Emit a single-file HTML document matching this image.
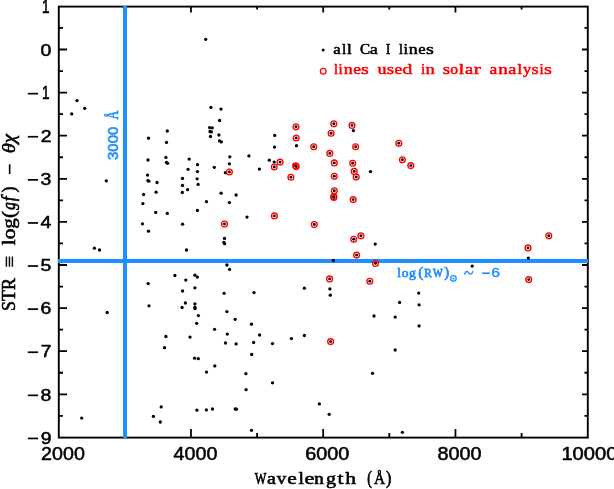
<!DOCTYPE html><html><head><meta charset="utf-8"><style>html,body{margin:0;padding:0;background:#fff;width:614px;height:489px;overflow:hidden}svg{display:block}</style></head><body>
<svg width="614" height="489" viewBox="0 0 614 489" style="will-change:transform">
<rect x="0" y="0" width="614" height="489" fill="#fff"/>
<path d="M58.8 27.95H63M587.8 27.95H584.5M58.8 49.50H67M587.8 49.50H582M58.8 71.05H63M587.8 71.05H584.5M58.8 92.60H67M587.8 92.60H582M58.8 114.15H63M587.8 114.15H584.5M58.8 135.70H67M587.8 135.70H582M58.8 157.25H63M587.8 157.25H584.5M58.8 178.80H67M587.8 178.80H582M58.8 200.35H63M587.8 200.35H584.5M58.8 221.90H67M587.8 221.90H582M58.8 243.45H63M587.8 243.45H584.5M58.8 265.00H67M587.8 265.00H582M58.8 286.55H63M587.8 286.55H584.5M58.8 308.10H67M587.8 308.10H582M58.8 329.65H63M587.8 329.65H584.5M58.8 351.20H67M587.8 351.20H582M58.8 372.75H63M587.8 372.75H584.5M58.8 394.30H67M587.8 394.30H582M58.8 415.85H63M587.8 415.85H584.5M124.83 437.6V433M124.83 6.6V9.5M190.95 437.6V429M190.95 6.6V12.5M257.07 437.6V433M257.07 6.6V9.5M323.20 437.6V429M323.20 6.6V12.5M389.32 437.6V433M389.32 6.6V9.5M455.45 437.6V429M455.45 6.6V12.5M521.58 437.6V433M521.58 6.6V9.5" stroke="#000" stroke-width="1.8" fill="none"/>
<rect x="58.8" y="6.6" width="529.0" height="431.0" fill="none" stroke="#000" stroke-width="1.9"/>
<rect x="123" y="6" width="4" height="432" fill="#1e90ff"/>
<rect x="58" y="259" width="530" height="4" fill="#1e90ff"/>
<g fill="#000">
<circle cx="77.0" cy="100.6" r="1.65"/>
<circle cx="84.7" cy="108.3" r="1.65"/>
<circle cx="71.7" cy="113.9" r="1.65"/>
<circle cx="148.5" cy="138.2" r="1.65"/>
<circle cx="148.0" cy="160.0" r="1.65"/>
<circle cx="147.5" cy="175.1" r="1.65"/>
<circle cx="106.3" cy="180.8" r="1.65"/>
<circle cx="147.9" cy="180.6" r="1.65"/>
<circle cx="148.8" cy="181.2" r="1.65"/>
<circle cx="157.0" cy="182.5" r="1.65"/>
<circle cx="143.6" cy="194.5" r="1.65"/>
<circle cx="156.1" cy="192.2" r="1.65"/>
<circle cx="142.9" cy="203.6" r="1.65"/>
<circle cx="155.7" cy="212.4" r="1.65"/>
<circle cx="142.5" cy="223.8" r="1.65"/>
<circle cx="148.5" cy="231.2" r="1.65"/>
<circle cx="94.4" cy="248.2" r="1.65"/>
<circle cx="99.5" cy="250.0" r="1.65"/>
<circle cx="148.2" cy="283.6" r="1.65"/>
<circle cx="149.0" cy="305.8" r="1.65"/>
<circle cx="107.2" cy="312.5" r="1.65"/>
<circle cx="164.5" cy="347.7" r="1.65"/>
<circle cx="81.7" cy="418.1" r="1.65"/>
<circle cx="161.2" cy="406.9" r="1.65"/>
<circle cx="153.4" cy="416.4" r="1.65"/>
<circle cx="160.3" cy="422.0" r="1.65"/>
<circle cx="205.7" cy="39.3" r="1.65"/>
<circle cx="210.9" cy="107.4" r="1.65"/>
<circle cx="221.0" cy="109.1" r="1.65"/>
<circle cx="219.6" cy="120.5" r="1.65"/>
<circle cx="209.6" cy="127.6" r="1.65"/>
<circle cx="212.2" cy="127.8" r="1.65"/>
<circle cx="210.0" cy="131.5" r="1.65"/>
<circle cx="211.4" cy="131.9" r="1.65"/>
<circle cx="210.5" cy="136.5" r="1.65"/>
<circle cx="218.9" cy="135.0" r="1.65"/>
<circle cx="219.6" cy="140.9" r="1.65"/>
<circle cx="221.3" cy="141.9" r="1.65"/>
<circle cx="167.3" cy="131.0" r="1.65"/>
<circle cx="166.5" cy="142.4" r="1.65"/>
<circle cx="165.9" cy="157.4" r="1.65"/>
<circle cx="166.5" cy="162.4" r="1.65"/>
<circle cx="167.6" cy="163.3" r="1.65"/>
<circle cx="189.2" cy="159.1" r="1.65"/>
<circle cx="197.5" cy="164.7" r="1.65"/>
<circle cx="188.1" cy="169.3" r="1.65"/>
<circle cx="197.4" cy="171.6" r="1.65"/>
<circle cx="214.3" cy="167.3" r="1.65"/>
<circle cx="229.8" cy="156.8" r="1.65"/>
<circle cx="229.4" cy="163.8" r="1.65"/>
<circle cx="225.4" cy="172.7" r="1.65"/>
<circle cx="248.9" cy="155.9" r="1.65"/>
<circle cx="259.4" cy="169.1" r="1.65"/>
<circle cx="269.3" cy="160.2" r="1.65"/>
<circle cx="182.5" cy="178.4" r="1.65"/>
<circle cx="197.1" cy="178.8" r="1.65"/>
<circle cx="182.5" cy="185.5" r="1.65"/>
<circle cx="198.1" cy="184.4" r="1.65"/>
<circle cx="187.6" cy="189.7" r="1.65"/>
<circle cx="182.3" cy="192.5" r="1.65"/>
<circle cx="221.1" cy="193.2" r="1.65"/>
<circle cx="236.1" cy="195.0" r="1.65"/>
<circle cx="206.5" cy="201.7" r="1.65"/>
<circle cx="229.4" cy="202.6" r="1.65"/>
<circle cx="197.4" cy="210.5" r="1.65"/>
<circle cx="167.3" cy="213.4" r="1.65"/>
<circle cx="247.0" cy="217.1" r="1.65"/>
<circle cx="182.6" cy="224.2" r="1.65"/>
<circle cx="224.5" cy="238.4" r="1.65"/>
<circle cx="223.8" cy="242.3" r="1.65"/>
<circle cx="224.6" cy="243.7" r="1.65"/>
<circle cx="186.5" cy="250.0" r="1.65"/>
<circle cx="226.9" cy="265.0" r="1.65"/>
<circle cx="229.6" cy="269.4" r="1.65"/>
<circle cx="174.9" cy="275.5" r="1.65"/>
<circle cx="194.9" cy="275.2" r="1.65"/>
<circle cx="197.4" cy="277.1" r="1.65"/>
<circle cx="185.8" cy="280.1" r="1.65"/>
<circle cx="194.9" cy="287.8" r="1.65"/>
<circle cx="182.6" cy="291.0" r="1.65"/>
<circle cx="224.1" cy="293.3" r="1.65"/>
<circle cx="254.0" cy="292.6" r="1.65"/>
<circle cx="185.4" cy="303.0" r="1.65"/>
<circle cx="194.9" cy="303.8" r="1.65"/>
<circle cx="182.1" cy="307.5" r="1.65"/>
<circle cx="194.9" cy="307.2" r="1.65"/>
<circle cx="195.1" cy="308.6" r="1.65"/>
<circle cx="198.4" cy="315.6" r="1.65"/>
<circle cx="226.9" cy="311.6" r="1.65"/>
<circle cx="235.2" cy="319.3" r="1.65"/>
<circle cx="196.7" cy="323.3" r="1.65"/>
<circle cx="251.5" cy="324.2" r="1.65"/>
<circle cx="214.6" cy="329.3" r="1.65"/>
<circle cx="227.3" cy="334.1" r="1.65"/>
<circle cx="259.6" cy="335.0" r="1.65"/>
<circle cx="165.9" cy="336.5" r="1.65"/>
<circle cx="190.0" cy="337.1" r="1.65"/>
<circle cx="225.5" cy="343.0" r="1.65"/>
<circle cx="236.1" cy="343.9" r="1.65"/>
<circle cx="253.6" cy="342.5" r="1.65"/>
<circle cx="194.6" cy="358.2" r="1.65"/>
<circle cx="198.3" cy="358.7" r="1.65"/>
<circle cx="214.8" cy="365.9" r="1.65"/>
<circle cx="206.5" cy="372.1" r="1.65"/>
<circle cx="251.7" cy="354.5" r="1.65"/>
<circle cx="245.9" cy="373.7" r="1.65"/>
<circle cx="246.1" cy="389.7" r="1.65"/>
<circle cx="196.9" cy="410.2" r="1.65"/>
<circle cx="206.4" cy="409.9" r="1.65"/>
<circle cx="212.5" cy="409.0" r="1.65"/>
<circle cx="235.2" cy="409.0" r="1.65"/>
<circle cx="236.4" cy="409.2" r="1.65"/>
<circle cx="251.5" cy="430.3" r="1.65"/>
<circle cx="274.7" cy="135.4" r="1.65"/>
<circle cx="274.5" cy="147.1" r="1.65"/>
<circle cx="296.5" cy="145.7" r="1.65"/>
<circle cx="274.2" cy="162.1" r="1.65"/>
<circle cx="353.4" cy="130.6" r="1.65"/>
<circle cx="370.5" cy="171.6" r="1.65"/>
<circle cx="375.2" cy="244.1" r="1.65"/>
<circle cx="333.3" cy="260.4" r="1.65"/>
<circle cx="304.4" cy="288.2" r="1.65"/>
<circle cx="329.9" cy="288.9" r="1.65"/>
<circle cx="330.3" cy="295.2" r="1.65"/>
<circle cx="374.0" cy="316.0" r="1.65"/>
<circle cx="304.4" cy="335.5" r="1.65"/>
<circle cx="291.4" cy="338.6" r="1.65"/>
<circle cx="272.5" cy="343.6" r="1.65"/>
<circle cx="272.5" cy="382.8" r="1.65"/>
<circle cx="372.5" cy="373.3" r="1.65"/>
<circle cx="319.4" cy="403.9" r="1.65"/>
<circle cx="329.2" cy="414.3" r="1.65"/>
<circle cx="472.2" cy="266.1" r="1.65"/>
<circle cx="418.7" cy="293.1" r="1.65"/>
<circle cx="399.6" cy="302.4" r="1.65"/>
<circle cx="419.1" cy="304.8" r="1.65"/>
<circle cx="395.2" cy="317.1" r="1.65"/>
<circle cx="419.1" cy="325.9" r="1.65"/>
<circle cx="395.2" cy="350.0" r="1.65"/>
<circle cx="402.4" cy="432.3" r="1.65"/>
<circle cx="528.4" cy="258.1" r="1.65"/>
<circle cx="229.4" cy="172.0" r="1.45"/>
<circle cx="224.5" cy="224.0" r="1.45"/>
<circle cx="296.0" cy="126.8" r="1.45"/>
<circle cx="296.2" cy="138.0" r="1.45"/>
<circle cx="313.7" cy="146.7" r="1.45"/>
<circle cx="280.1" cy="162.1" r="1.45"/>
<circle cx="274.3" cy="167.0" r="1.45"/>
<circle cx="295.6" cy="165.8" r="1.45"/>
<circle cx="296.2" cy="166.6" r="1.45"/>
<circle cx="290.9" cy="177.2" r="1.45"/>
<circle cx="333.8" cy="123.8" r="1.45"/>
<circle cx="352.0" cy="125.4" r="1.45"/>
<circle cx="331.1" cy="133.2" r="1.45"/>
<circle cx="355.6" cy="146.7" r="1.45"/>
<circle cx="329.8" cy="153.4" r="1.45"/>
<circle cx="334.3" cy="162.9" r="1.45"/>
<circle cx="352.7" cy="163.2" r="1.45"/>
<circle cx="354.2" cy="171.4" r="1.45"/>
<circle cx="356.2" cy="177.1" r="1.45"/>
<circle cx="334.3" cy="176.3" r="1.45"/>
<circle cx="334.3" cy="190.8" r="1.45"/>
<circle cx="333.8" cy="196.6" r="1.45"/>
<circle cx="333.8" cy="197.4" r="1.45"/>
<circle cx="353.2" cy="199.6" r="1.45"/>
<circle cx="274.4" cy="215.9" r="1.45"/>
<circle cx="314.3" cy="224.5" r="1.45"/>
<circle cx="360.9" cy="235.8" r="1.45"/>
<circle cx="353.7" cy="239.3" r="1.45"/>
<circle cx="356.6" cy="255.1" r="1.45"/>
<circle cx="375.5" cy="263.4" r="1.45"/>
<circle cx="329.6" cy="278.9" r="1.45"/>
<circle cx="369.8" cy="281.2" r="1.45"/>
<circle cx="330.6" cy="341.6" r="1.45"/>
<circle cx="398.8" cy="143.3" r="1.45"/>
<circle cx="402.4" cy="159.8" r="1.45"/>
<circle cx="410.8" cy="165.6" r="1.45"/>
<circle cx="548.8" cy="235.8" r="1.45"/>
<circle cx="528.0" cy="247.9" r="1.45"/>
<circle cx="528.7" cy="279.6" r="1.45"/>
</g>
<g fill="none" stroke="#ff0000" stroke-width="1.35">
<circle cx="229.4" cy="172.0" r="2.9"/>
<circle cx="224.5" cy="224.0" r="2.9"/>
<circle cx="296.0" cy="126.8" r="2.9"/>
<circle cx="296.2" cy="138.0" r="2.9"/>
<circle cx="313.7" cy="146.7" r="2.9"/>
<circle cx="280.1" cy="162.1" r="2.9"/>
<circle cx="274.3" cy="167.0" r="2.9"/>
<circle cx="295.6" cy="165.8" r="2.9"/>
<circle cx="296.2" cy="166.6" r="2.9"/>
<circle cx="290.9" cy="177.2" r="2.9"/>
<circle cx="333.8" cy="123.8" r="2.9"/>
<circle cx="352.0" cy="125.4" r="2.9"/>
<circle cx="331.1" cy="133.2" r="2.9"/>
<circle cx="355.6" cy="146.7" r="2.9"/>
<circle cx="329.8" cy="153.4" r="2.9"/>
<circle cx="334.3" cy="162.9" r="2.9"/>
<circle cx="352.7" cy="163.2" r="2.9"/>
<circle cx="354.2" cy="171.4" r="2.9"/>
<circle cx="356.2" cy="177.1" r="2.9"/>
<circle cx="334.3" cy="176.3" r="2.9"/>
<circle cx="334.3" cy="190.8" r="2.9"/>
<circle cx="333.8" cy="196.6" r="2.9"/>
<circle cx="333.8" cy="197.4" r="2.9"/>
<circle cx="353.2" cy="199.6" r="2.9"/>
<circle cx="274.4" cy="215.9" r="2.9"/>
<circle cx="314.3" cy="224.5" r="2.9"/>
<circle cx="360.9" cy="235.8" r="2.9"/>
<circle cx="353.7" cy="239.3" r="2.9"/>
<circle cx="356.6" cy="255.1" r="2.9"/>
<circle cx="375.5" cy="263.4" r="2.9"/>
<circle cx="329.6" cy="278.9" r="2.9"/>
<circle cx="369.8" cy="281.2" r="2.9"/>
<circle cx="330.6" cy="341.6" r="2.9"/>
<circle cx="398.8" cy="143.3" r="2.9"/>
<circle cx="402.4" cy="159.8" r="2.9"/>
<circle cx="410.8" cy="165.6" r="2.9"/>
<circle cx="548.8" cy="235.8" r="2.9"/>
<circle cx="528.0" cy="247.9" r="2.9"/>
<circle cx="528.7" cy="279.6" r="2.9"/>
</g>
<text transform="matrix(0.13478,0,0,0.17808,41.991,12.644)" font-size="100" font-family="Liberation Sans" fill="#000" stroke="#000" stroke-width="3.50" stroke-linejoin="round" >1</text>
<text transform="matrix(0.19479,0,0,0.17113,40.576,55.700)" font-size="100" font-family="Liberation Sans" fill="#000" stroke="#000" stroke-width="3.00" stroke-linejoin="round">0</text>
<text transform="matrix(0.13478,0,0,0.17808,41.991,98.844)" font-size="100" font-family="Liberation Sans" fill="#000" stroke="#000" stroke-width="3.50" stroke-linejoin="round" >1</text>
<rect x="27.8" y="92.80" width="10.3" height="1.7" fill="#000"/>
<text transform="matrix(0.19479,0,0,0.17113,40.771,141.900)" font-size="100" font-family="Liberation Sans" fill="#000" stroke="#000" stroke-width="3.00" stroke-linejoin="round">2</text>
<rect x="27.8" y="135.90" width="10.3" height="1.7" fill="#000"/>
<text transform="matrix(0.19479,0,0,0.17113,40.576,185.000)" font-size="100" font-family="Liberation Sans" fill="#000" stroke="#000" stroke-width="3.00" stroke-linejoin="round">3</text>
<rect x="27.8" y="179.00" width="10.3" height="1.7" fill="#000"/>
<text transform="matrix(0.19479,0,0,0.17113,40.381,228.100)" font-size="100" font-family="Liberation Sans" fill="#000" stroke="#000" stroke-width="3.00" stroke-linejoin="round">4</text>
<rect x="27.8" y="222.10" width="10.3" height="1.7" fill="#000"/>
<text transform="matrix(0.19479,0,0,0.17113,40.576,271.200)" font-size="100" font-family="Liberation Sans" fill="#000" stroke="#000" stroke-width="3.00" stroke-linejoin="round">5</text>
<rect x="27.8" y="265.20" width="10.3" height="1.7" fill="#000"/>
<text transform="matrix(0.19479,0,0,0.17113,40.576,314.300)" font-size="100" font-family="Liberation Sans" fill="#000" stroke="#000" stroke-width="3.00" stroke-linejoin="round">6</text>
<rect x="27.8" y="308.30" width="10.3" height="1.7" fill="#000"/>
<text transform="matrix(0.19479,0,0,0.17113,40.771,357.400)" font-size="100" font-family="Liberation Sans" fill="#000" stroke="#000" stroke-width="3.00" stroke-linejoin="round">7</text>
<rect x="27.8" y="351.40" width="10.3" height="1.7" fill="#000"/>
<text transform="matrix(0.19479,0,0,0.17113,40.576,400.500)" font-size="100" font-family="Liberation Sans" fill="#000" stroke="#000" stroke-width="3.00" stroke-linejoin="round">8</text>
<rect x="27.8" y="394.50" width="10.3" height="1.7" fill="#000"/>
<text transform="matrix(0.19479,0,0,0.17113,40.771,443.600)" font-size="100" font-family="Liberation Sans" fill="#000" stroke="#000" stroke-width="3.00" stroke-linejoin="round">9</text>
<rect x="27.8" y="437.60" width="10.3" height="1.7" fill="#000"/>
<text transform="matrix(0.19676,0,0,0.18082,41.113,459.738)" font-size="100" font-family="Liberation Sans" fill="#000" stroke="#000" stroke-width="2.90" stroke-linejoin="round" >2000</text>
<text transform="matrix(0.19726,0,0,0.18082,173.503,459.738)" font-size="100" font-family="Liberation Sans" fill="#000" stroke="#000" stroke-width="2.90" stroke-linejoin="round" >4000</text>
<text transform="matrix(0.19815,0,0,0.18082,305.307,459.738)" font-size="100" font-family="Liberation Sans" fill="#000" stroke="#000" stroke-width="2.90" stroke-linejoin="round" >6000</text>
<text transform="matrix(0.19816,0,0,0.18082,437.406,459.738)" font-size="100" font-family="Liberation Sans" fill="#000" stroke="#000" stroke-width="2.90" stroke-linejoin="round" >8000</text>
<text transform="matrix(0.20148,0,0,0.18082,561.391,459.738)" font-size="100" font-family="Liberation Sans" fill="#000" stroke="#000" stroke-width="2.90" stroke-linejoin="round" >10000</text>
<text transform="matrix(0.12347,0,0,0.17260,254.847,484.155)" font-size="100" font-family="Liberation Serif" fill="#000" stroke="#000" stroke-width="4.10" stroke-linejoin="round" >W</text>
<text transform="matrix(0.20000,0,0,0.17746,267.000,484.323)" font-size="100" font-family="Liberation Serif" fill="#000" stroke="#000" stroke-width="3.20" stroke-linejoin="round" >a</text>
<text transform="matrix(0.18889,0,0,0.17260,276.778,484.155)" font-size="100" font-family="Liberation Serif" fill="#000" stroke="#000" stroke-width="3.30" stroke-linejoin="round" >v</text>
<text transform="matrix(0.21500,0,0,0.17746,287.370,484.323)" font-size="100" font-family="Liberation Serif" fill="#000" stroke="#000" stroke-width="3.10" stroke-linejoin="round" >e</text>
<text transform="matrix(0.19630,0,0,0.17746,298.400,484.323)" font-size="100" font-family="Liberation Serif" fill="#000" stroke="#000" stroke-width="3.20" stroke-linejoin="round" >l</text>
<text transform="matrix(0.22500,0,0,0.17746,304.450,484.323)" font-size="100" font-family="Liberation Serif" fill="#000" stroke="#000" stroke-width="3.00" stroke-linejoin="round" >e</text>
<text transform="matrix(0.18980,0,0,0.17260,314.310,484.155)" font-size="100" font-family="Liberation Serif" fill="#000" stroke="#000" stroke-width="3.30" stroke-linejoin="round" >n</text>
<text transform="matrix(0.20000,0,0,0.17746,326.100,484.323)" font-size="100" font-family="Liberation Serif" fill="#000" stroke="#000" stroke-width="3.20" stroke-linejoin="round" >g</text>
<text transform="matrix(0.21667,0,0,0.17746,337.517,484.323)" font-size="100" font-family="Liberation Serif" fill="#000" stroke="#000" stroke-width="3.00" stroke-linejoin="round" >t</text>
<text transform="matrix(0.21569,0,0,0.17746,345.216,484.323)" font-size="100" font-family="Liberation Serif" fill="#000" stroke="#000" stroke-width="3.10" stroke-linejoin="round" >h</text>
<text transform="matrix(0.15405,0,0,0.17765,374.054,484.145)" font-size="100" font-family="Liberation Serif" fill="#000" stroke="#000" stroke-width="3.60" stroke-linejoin="round" >Å</text>
<text transform="matrix(0.13793,0,0,0.18511,367.186,483.743)" font-size="100" font-family="Liberation Serif" fill="#000" stroke="#000" stroke-width="3.70" stroke-linejoin="round" >(</text>
<text transform="matrix(0.15862,0,0,0.18511,386.083,483.743)" font-size="100" font-family="Liberation Serif" fill="#000" stroke="#000" stroke-width="3.50" stroke-linejoin="round" >)</text>
<text transform="matrix(0.16512,0,0,0.14110,333.270,54.318)" font-size="100" font-family="Liberation Serif" fill="#000" stroke="#000" stroke-width="3.60" stroke-linejoin="round" >a</text>
<text transform="matrix(0.15357,0,0,0.14110,342.000,54.318)" font-size="100" font-family="Liberation Serif" fill="#000" stroke="#000" stroke-width="3.70" stroke-linejoin="round" >l</text>
<text transform="matrix(0.17407,0,0,0.14110,347.100,54.318)" font-size="100" font-family="Liberation Serif" fill="#000" stroke="#000" stroke-width="3.50" stroke-linejoin="round" >l</text>
<text transform="matrix(0.15082,0,0,0.14110,359.898,54.318)" font-size="100" font-family="Liberation Serif" fill="#000" stroke="#000" stroke-width="3.80" stroke-linejoin="round" >C</text>
<text transform="matrix(0.18140,0,0,0.14110,369.637,54.318)" font-size="100" font-family="Liberation Serif" fill="#000" stroke="#000" stroke-width="3.40" stroke-linejoin="round" >a</text>
<text transform="matrix(0.13000,0,0,0.14110,386.040,54.318)" font-size="100" font-family="Liberation Serif" fill="#000" stroke="#000" stroke-width="4.10" stroke-linejoin="round" >I</text>
<text transform="matrix(0.13929,0,0,0.14110,398.900,54.318)" font-size="100" font-family="Liberation Serif" fill="#000" stroke="#000" stroke-width="3.90" stroke-linejoin="round" >l</text>
<text transform="matrix(0.16429,0,0,0.14110,403.500,54.318)" font-size="100" font-family="Liberation Serif" fill="#000" stroke="#000" stroke-width="3.60" stroke-linejoin="round" >i</text>
<text transform="matrix(0.17959,0,0,0.14110,408.820,54.318)" font-size="100" font-family="Liberation Serif" fill="#000" stroke="#000" stroke-width="3.40" stroke-linejoin="round" >n</text>
<text transform="matrix(0.16585,0,0,0.14110,418.168,54.318)" font-size="100" font-family="Liberation Serif" fill="#000" stroke="#000" stroke-width="3.60" stroke-linejoin="round" >e</text>
<text transform="matrix(0.20294,0,0,0.14507,425.991,54.455)" font-size="100" font-family="Liberation Serif" fill="#000" stroke="#000" stroke-width="3.20" stroke-linejoin="round" >s</text>
<text transform="matrix(0.13929,0,0,0.14521,333.900,74.310)" font-size="100" font-family="Liberation Serif" fill="#ff0000" stroke="#ff0000" stroke-width="3.90" stroke-linejoin="round" >l</text>
<text transform="matrix(0.15000,0,0,0.14521,338.500,74.310)" font-size="100" font-family="Liberation Serif" fill="#ff0000" stroke="#ff0000" stroke-width="3.70" stroke-linejoin="round" >i</text>
<text transform="matrix(0.17959,0,0,0.14521,343.820,74.310)" font-size="100" font-family="Liberation Serif" fill="#ff0000" stroke="#ff0000" stroke-width="3.40" stroke-linejoin="round" >n</text>
<text transform="matrix(0.17317,0,0,0.14521,353.154,74.310)" font-size="100" font-family="Liberation Serif" fill="#ff0000" stroke="#ff0000" stroke-width="3.50" stroke-linejoin="round" >e</text>
<text transform="matrix(0.20000,0,0,0.14930,361.000,74.451)" font-size="100" font-family="Liberation Serif" fill="#ff0000" stroke="#ff0000" stroke-width="3.10" stroke-linejoin="round" >s</text>
<text transform="matrix(0.18200,0,0,0.14521,377.600,74.310)" font-size="100" font-family="Liberation Serif" fill="#ff0000" stroke="#ff0000" stroke-width="3.40" stroke-linejoin="round" >u</text>
<text transform="matrix(0.19118,0,0,0.14930,386.826,74.451)" font-size="100" font-family="Liberation Serif" fill="#ff0000" stroke="#ff0000" stroke-width="3.20" stroke-linejoin="round" >s</text>
<text transform="matrix(0.17561,0,0,0.14521,394.449,74.310)" font-size="100" font-family="Liberation Serif" fill="#ff0000" stroke="#ff0000" stroke-width="3.40" stroke-linejoin="round" >e</text>
<text transform="matrix(0.20208,0,0,0.14930,402.296,74.451)" font-size="100" font-family="Liberation Serif" fill="#ff0000" stroke="#ff0000" stroke-width="3.10" stroke-linejoin="round" >d</text>
<text transform="matrix(0.15000,0,0,0.14521,420.900,74.310)" font-size="100" font-family="Liberation Serif" fill="#ff0000" stroke="#ff0000" stroke-width="3.70" stroke-linejoin="round" >i</text>
<text transform="matrix(0.18571,0,0,0.14521,425.614,74.310)" font-size="100" font-family="Liberation Serif" fill="#ff0000" stroke="#ff0000" stroke-width="3.30" stroke-linejoin="round" >n</text>
<text transform="matrix(0.19118,0,0,0.14930,442.826,74.451)" font-size="100" font-family="Liberation Serif" fill="#ff0000" stroke="#ff0000" stroke-width="3.20" stroke-linejoin="round" >s</text>
<text transform="matrix(0.15652,0,0,0.14521,450.287,74.310)" font-size="100" font-family="Liberation Serif" fill="#ff0000" stroke="#ff0000" stroke-width="3.60" stroke-linejoin="round" >o</text>
<text transform="matrix(0.19630,0,0,0.14930,458.700,74.451)" font-size="100" font-family="Liberation Serif" fill="#ff0000" stroke="#ff0000" stroke-width="3.20" stroke-linejoin="round" >l</text>
<text transform="matrix(0.18140,0,0,0.14521,464.937,74.310)" font-size="100" font-family="Liberation Serif" fill="#ff0000" stroke="#ff0000" stroke-width="3.40" stroke-linejoin="round" >a</text>
<text transform="matrix(0.22727,0,0,0.14930,473.473,74.451)" font-size="100" font-family="Liberation Serif" fill="#ff0000" stroke="#ff0000" stroke-width="2.90" stroke-linejoin="round" >r</text>
<text transform="matrix(0.17442,0,0,0.14521,489.551,74.310)" font-size="100" font-family="Liberation Serif" fill="#ff0000" stroke="#ff0000" stroke-width="3.40" stroke-linejoin="round" >a</text>
<text transform="matrix(0.19184,0,0,0.14930,498.208,74.451)" font-size="100" font-family="Liberation Serif" fill="#ff0000" stroke="#ff0000" stroke-width="3.20" stroke-linejoin="round" >n</text>
<text transform="matrix(0.18140,0,0,0.14521,508.137,74.310)" font-size="100" font-family="Liberation Serif" fill="#ff0000" stroke="#ff0000" stroke-width="3.40" stroke-linejoin="round" >a</text>
<text transform="matrix(0.18148,0,0,0.14521,517.300,74.310)" font-size="100" font-family="Liberation Serif" fill="#ff0000" stroke="#ff0000" stroke-width="3.40" stroke-linejoin="round" >l</text>
<text transform="matrix(0.16346,0,0,0.14521,523.063,74.310)" font-size="100" font-family="Liberation Serif" fill="#ff0000" stroke="#ff0000" stroke-width="3.60" stroke-linejoin="round" >y</text>
<text transform="matrix(0.18235,0,0,0.14521,531.453,74.310)" font-size="100" font-family="Liberation Serif" fill="#ff0000" stroke="#ff0000" stroke-width="3.40" stroke-linejoin="round" >s</text>
<text transform="matrix(0.15000,0,0,0.14521,539.500,74.310)" font-size="100" font-family="Liberation Serif" fill="#ff0000" stroke="#ff0000" stroke-width="3.70" stroke-linejoin="round" >i</text>
<text transform="matrix(0.20294,0,0,0.14930,544.091,74.451)" font-size="100" font-family="Liberation Serif" fill="#ff0000" stroke="#ff0000" stroke-width="3.10" stroke-linejoin="round" >s</text>
<circle cx="323.2" cy="49.9" r="1.5" fill="#000"/>
<circle cx="323.2" cy="71.3" r="2.85" fill="none" stroke="#ff0000" stroke-width="1.3"/>
<text transform="translate(15.200,310.894) rotate(-90) scale(0.17889,0.19254)" font-size="100" font-family="Liberation Serif" fill="#000" stroke="#000" stroke-width="3.20" stroke-linejoin="round">STR</text>
<text transform="translate(15.200,245.213) rotate(-90) scale(0.21266,0.19254)" font-size="100" font-family="Liberation Serif" fill="#000" stroke="#000" stroke-width="3.00" stroke-linejoin="round">log(</text>
<text transform="translate(15.200,209.698) rotate(-90) scale(0.15098,0.19254)" font-size="100" font-family="Liberation Serif" font-style="italic" fill="#000" stroke="#000" stroke-width="3.50" stroke-linejoin="round">g</text>
<text transform="translate(15.200,201.300) rotate(-90) scale(0.17561,0.19254)" font-size="100" font-family="Liberation Serif" font-style="italic" fill="#000" stroke="#000" stroke-width="3.30" stroke-linejoin="round">f</text>
<text transform="translate(15.200,192.464) rotate(-90) scale(0.18214,0.19254)" font-size="100" font-family="Liberation Serif" fill="#000" stroke="#000" stroke-width="3.20" stroke-linejoin="round">)</text>
<text transform="translate(15.200,153.216) rotate(-90) scale(0.20538,0.19254)" font-size="100" font-family="Liberation Serif" font-style="italic" fill="#000" stroke="#000" stroke-width="3.00" stroke-linejoin="round">θχ</text>
<text transform="translate(16.342,267.542) rotate(-90) scale(0.21042,0.20278)" font-size="100" font-family="Liberation Serif" fill="#000" stroke="#000" stroke-width="1.90" stroke-linejoin="round">≡</text>
<rect x="8.85" y="164.4" width="1.6" height="9.6" fill="#000"/>
<text transform="translate(118.300,159.999) rotate(-90) scale(0.14954,0.14648)" font-size="100" font-family="Liberation Sans" fill="#1e90ff" stroke="#1e90ff" stroke-width="4.10" stroke-linejoin="round">3000</text>
<text transform="translate(118.300,119.576) rotate(-90) scale(0.12432,0.16296)" font-size="100" font-family="Liberation Serif" fill="#1e90ff" stroke="#1e90ff" stroke-width="3.80" stroke-linejoin="round">Å</text>
<text transform="matrix(0.11667,0,0,0.12400,397.517,276.828)" font-size="100" font-family="Liberation Serif" fill="#1e90ff" stroke="#1e90ff" stroke-width="6.20" stroke-linejoin="round" >l</text>
<text transform="matrix(0.13333,0,0,0.12308,401.667,276.831)" font-size="100" font-family="Liberation Serif" fill="#1e90ff" stroke="#1e90ff" stroke-width="5.90" stroke-linejoin="round" >o</text>
<text transform="matrix(0.13878,0,0,0.12308,408.922,276.831)" font-size="100" font-family="Liberation Serif" fill="#1e90ff" stroke="#1e90ff" stroke-width="5.70" stroke-linejoin="round" >g</text>
<text transform="matrix(0.11143,0,0,0.12361,424.300,276.706)" font-size="100" font-family="Liberation Serif" fill="#1e90ff" stroke="#1e90ff" stroke-width="6.40" stroke-linejoin="round" >R</text>
<text transform="matrix(0.10300,0,0,0.12361,432.909,276.706)" font-size="100" font-family="Liberation Serif" fill="#1e90ff" stroke="#1e90ff" stroke-width="6.60" stroke-linejoin="round" >W</text>
<text transform="matrix(0.15484,0,0,0.14271,418.190,277.175)" font-size="100" font-family="Liberation Serif" fill="#1e90ff" stroke="#1e90ff" stroke-width="5.00" stroke-linejoin="round" >(</text>
<text transform="matrix(0.14667,0,0,0.14583,444.253,276.900)" font-size="100" font-family="Liberation Serif" fill="#1e90ff" stroke="#1e90ff" stroke-width="5.10" stroke-linejoin="round" >)</text>
<circle cx="453.4" cy="278.4" r="2.75" fill="none" stroke="#1e90ff" stroke-width="1.35"/><circle cx="453.4" cy="278.4" r="1.0" fill="#1e90ff"/>
<path d="M464.7,273.9 C465.7,270.9 467.5,270.9 468.7,272.8 C469.9,274.7 471.7,274.7 472.7,271.6" fill="none" stroke="#1e90ff" stroke-width="1.45" stroke-linecap="round"/>
<text transform="matrix(0.16122,0,0,0.22857,481.294,281.057)" font-size="100" font-family="Liberation Sans" fill="#1e90ff" >−</text>
<text transform="matrix(0.15918,0,0,0.13014,491.263,277.340)" font-size="100" font-family="Liberation Sans" fill="#1e90ff" stroke="#1e90ff" stroke-width="2.80" stroke-linejoin="round" >6</text>
</svg></body></html>
